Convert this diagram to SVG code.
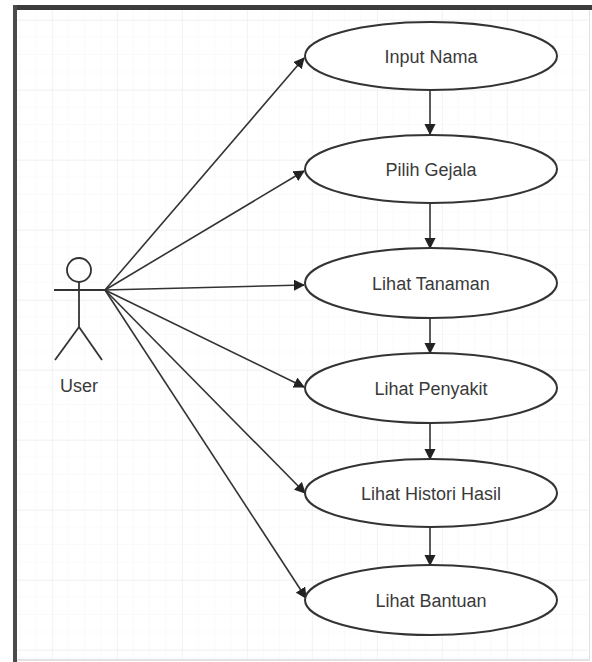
<svg xmlns="http://www.w3.org/2000/svg" width="592" height="662" viewBox="0 0 592 662">
  <defs>
    <style>
      .uc { fill: #ffffff; stroke: #333333; stroke-width: 2; }
      .lbl { font-family: "Liberation Sans", Arial, sans-serif; font-size: 18px; fill: #3a3a3a; text-anchor: middle; }
      .edge { stroke: #333333; stroke-width: 1.6; fill: none; marker-end: url(#arr); }
      .actor { stroke: #333333; stroke-width: 1.8; fill: none; }
    </style>
    <marker id="arr" viewBox="0 0 10 10" refX="9" refY="5" markerWidth="7" markerHeight="7" markerUnits="strokeWidth" orient="auto">
      <path d="M0,0 L10,5 L0,10 z" fill="#222222"/>
    </marker>
    <pattern id="minor" x="20" y="20" width="16.25" height="17.5" patternUnits="userSpaceOnUse">
      <path d="M16.25,0 V17.5 M0,17.5 H16.25" stroke="#f6f6f6" stroke-width="1" fill="none"/>
    </pattern>
    <pattern id="major" x="52" y="20" width="65" height="70" patternUnits="userSpaceOnUse">
      <path d="M0,0 V70 M0,0 H65" stroke="#ececec" stroke-width="1" fill="none"/>
    </pattern>
  </defs>
  <rect x="0" y="0" width="592" height="662" fill="#ffffff"/>
  <g id="grid">
    <rect x="17" y="10" width="571" height="649" fill="url(#minor)"/>
    <rect x="17" y="10" width="571" height="649" fill="url(#major)"/>
  </g>
  <g id="frame">
    <rect x="13" y="5" width="579" height="5" fill="#3c3c3c"/>
    <rect x="13" y="5" width="4" height="657" fill="#4a4a4a"/>
    <line x1="17" y1="660" x2="590" y2="660" stroke="#d8d8d8" stroke-width="1.5"/>
    <line x1="589.5" y1="10" x2="589.5" y2="660" stroke="#e0e0e0" stroke-width="1"/>
  </g>
  <g id="connectors">
    <line class="edge" x1="105" y1="290" x2="304" y2="58"/>
    <line class="edge" x1="105" y1="290" x2="304" y2="171"/>
    <line class="edge" x1="105" y1="290" x2="304" y2="285"/>
    <line class="edge" x1="105" y1="290" x2="304" y2="387"/>
    <line class="edge" x1="105" y1="290" x2="305" y2="493"/>
    <line class="edge" x1="105" y1="290" x2="306" y2="598"/>
    <line class="edge" x1="430" y1="90" x2="430" y2="134"/>
    <line class="edge" x1="430" y1="203" x2="430" y2="248"/>
    <line class="edge" x1="430" y1="318" x2="430" y2="353"/>
    <line class="edge" x1="430" y1="422" x2="430" y2="459"/>
    <line class="edge" x1="430" y1="528" x2="430" y2="565"/>
  </g>
  <g id="user">
    <circle class="actor" cx="79" cy="270" r="12"/>
    <line class="actor" x1="79" y1="282" x2="79" y2="327"/>
    <line class="actor" x1="54" y1="290" x2="105" y2="290"/>
    <line class="actor" x1="79" y1="327" x2="55" y2="360"/>
    <line class="actor" x1="79" y1="327" x2="102" y2="360"/>
    <text class="lbl" x="79" y="392">User</text>
  </g>
  <g id="input-nama">
    <ellipse class="uc" cx="431" cy="56" rx="126" ry="34"/>
    <text class="lbl" x="431" y="63">Input Nama</text>
  </g>
  <g id="pilih-gejala">
    <ellipse class="uc" cx="431" cy="169" rx="126" ry="34"/>
    <text class="lbl" x="431" y="176">Pilih Gejala</text>
  </g>
  <g id="lihat-tanaman">
    <ellipse class="uc" cx="431" cy="283" rx="126" ry="35"/>
    <text class="lbl" x="431" y="290">Lihat Tanaman</text>
  </g>
  <g id="lihat-penyakit">
    <ellipse class="uc" cx="431" cy="388" rx="126" ry="35"/>
    <text class="lbl" x="431" y="395">Lihat Penyakit</text>
  </g>
  <g id="lihat-histori-hasil">
    <ellipse class="uc" cx="431" cy="493" rx="126" ry="34"/>
    <text class="lbl" x="431" y="500">Lihat Histori Hasil</text>
  </g>
  <g id="lihat-bantuan">
    <ellipse class="uc" cx="431" cy="600" rx="126" ry="35"/>
    <text class="lbl" x="431" y="607">Lihat Bantuan</text>
  </g>
</svg>
